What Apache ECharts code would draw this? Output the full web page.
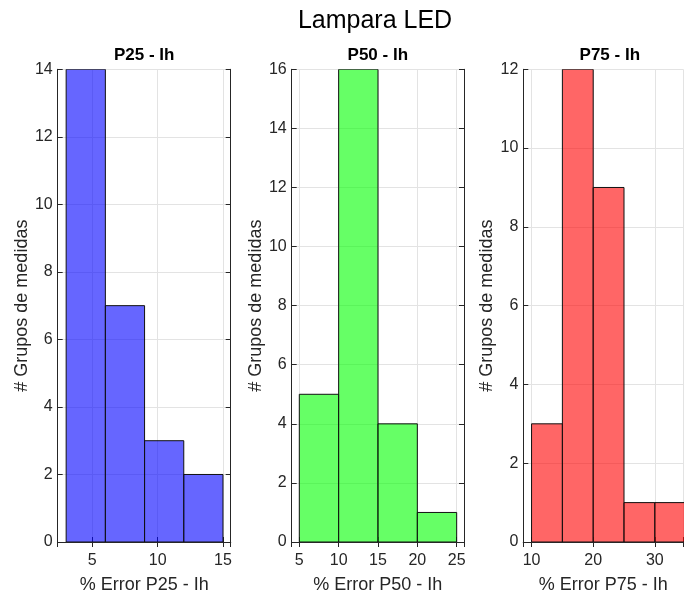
<!DOCTYPE html>
<html>
<head>
<meta charset="utf-8">
<script src="https://cdn.jsdelivr.net/npm/echarts@6/dist/echarts.min.js"></script>
<style>
html,body{margin:0;padding:0;background:#fff;}
#chart{width:686px;height:599px;}
</style>
</head>
<body>
<div id="chart"></div>
<script>
// ---- Data ----
var mainTitle = 'Lampara LED';
var panelTitles = ['P25 - Ih', 'P50 - Ih', 'P75 - Ih'];
var xNames = ['% Error P25 - Ih', '% Error P50 - Ih', '% Error P75 - Ih'];
var yName = '# Grupos de medidas';

var edges1 = [3, 6, 9, 12, 15];
var counts1 = [14, 7, 3, 2];
var edges2 = [5, 10, 15, 20, 25];
var counts2 = [5, 16, 4, 1];
var edges3 = [10, 15, 20, 25, 30, 35];
var counts3 = [3, 12, 9, 1, 1];

var xLims = [[2.353, 15.59], [4.034, 25.93], [8.66, 34.57]];
var xTickStep = [5, 5, 10];
var xSplit = [3, 4, 3];
var yMax = [14, 16, 12];
var yStep = 2;

// ---- Layout / style ----
var FONT = '"Liberation Sans", Arial, Helvetica, sans-serif';
var colors = ['rgba(0,0,255,0.6)', 'rgba(0,255,0,0.6)', 'rgba(255,0,0,0.6)'];
var gridLefts = [57.7, 291.7, 523.3];
var gridWidths = [173, 172.3, 162.7];
var showRight = [true, true, false];
var titleCenters = [144.2, 377.8, 609.8];
var gridTop = 69.3, gridHeight = 477.4;
var axisCol = '#262626';
var gridCol = '#e3e3e3';

function binsData(edges, counts) {
  var d = [];
  for (var i = 0; i < counts.length; i++) d.push([edges[i], edges[i + 1], counts[i]]);
  return d;
}
var allData = [binsData(edges1, counts1), binsData(edges2, counts2), binsData(edges3, counts3)];

var grids = [], xAxes = [], yAxes = [], series = [], graphics = [];
graphics.push({type: 'text', x: 375, y: 21, z: 10,
  style: {text: mainTitle, textAlign: 'center', textVerticalAlign: 'middle',
    font: 'normal 25px ' + FONT, fill: '#000'}});

for (var k = 0; k < 3; k++) {
  grids.push({left: gridLefts[k], top: gridTop, width: gridWidths[k], height: gridHeight, containLabel: false});
  graphics.push({type: 'text', x: titleCenters[k], y: 55, z: 10,
    style: {text: panelTitles[k], textAlign: 'center', textVerticalAlign: 'middle',
      font: 'bold 17px ' + FONT, fill: '#000'}});
  (function (step) {
    xAxes.push({
      type: 'value', gridIndex: k, position: 'bottom', min: xLims[k][0], max: xLims[k][1], splitNumber: xSplit[k],
      name: xNames[k], nameLocation: 'middle', nameGap: 34,
      nameTextStyle: {fontFamily: FONT, fontSize: 18, color: axisCol},
      axisLine: {show: true, lineStyle: {color: axisCol, width: 1}},
      axisTick: {show: true, inside: true, length: 5, lineStyle: {color: axisCol}},
      axisLabel: {show: true, margin: 11, fontFamily: FONT, fontSize: 16, color: axisCol,
        formatter: function (v) { return (Math.abs(v / step - Math.round(v / step)) < 1e-6) ? String(Math.round(v)) : ''; }},
      splitLine: {show: true, lineStyle: {color: gridCol, width: 1}}
    });
  })(xTickStep[k]);
  xAxes.push({
    type: 'value', gridIndex: k, position: 'top', min: xLims[k][0], max: xLims[k][1], splitNumber: xSplit[k],
    axisLine: {show: true, lineStyle: {color: axisCol, width: 1}},
    axisTick: {show: true, inside: true, length: 5, lineStyle: {color: axisCol}},
    axisLabel: {show: false}, splitLine: {show: false}
  });
  yAxes.push({
    type: 'value', gridIndex: k, position: 'left', min: 0, max: yMax[k], interval: yStep,
    name: yName, nameLocation: 'middle', nameGap: 27,
    nameTextStyle: {fontFamily: FONT, fontSize: 18, color: axisCol},
    axisLine: {show: true, lineStyle: {color: axisCol, width: 1}},
    axisTick: {show: true, inside: true, length: 5, lineStyle: {color: axisCol}},
    axisLabel: {show: true, margin: 5, fontFamily: FONT, fontSize: 16, color: axisCol},
    splitLine: {show: true, lineStyle: {color: gridCol, width: 1}}
  });
  yAxes.push({
    type: 'value', gridIndex: k, position: 'right', min: 0, max: yMax[k], interval: yStep,
    axisLine: {show: showRight[k], lineStyle: {color: axisCol, width: 1}},
    axisTick: {show: showRight[k], inside: true, length: 5, lineStyle: {color: axisCol}},
    axisLabel: {show: false}, splitLine: {show: false}
  });
  (function (col) {
    series.push({
      type: 'custom', xAxisIndex: 2 * k, yAxisIndex: 2 * k, clip: true,
      data: allData[k],
      encode: {x: [0, 1], y: 2},
      renderItem: function (params, api) {
        var p0 = api.coord([api.value(0), api.value(2)]);
        var p1 = api.coord([api.value(1), 0]);
        return {type: 'rect',
          shape: {x: p0[0], y: p0[1], width: p1[0] - p0[0], height: p1[1] - p0[1]},
          style: {fill: col, stroke: '#111', lineWidth: 1}};
      }
    });
  })(colors[k]);
}

var chart = echarts.init(document.getElementById('chart'), null, {renderer: 'canvas'});
chart.setOption({
  animation: false,
  backgroundColor: '#fff',
  grid: grids,
  xAxis: xAxes,
  yAxis: yAxes,
  series: series,
  graphic: graphics
});
</script>
</body>
</html>
